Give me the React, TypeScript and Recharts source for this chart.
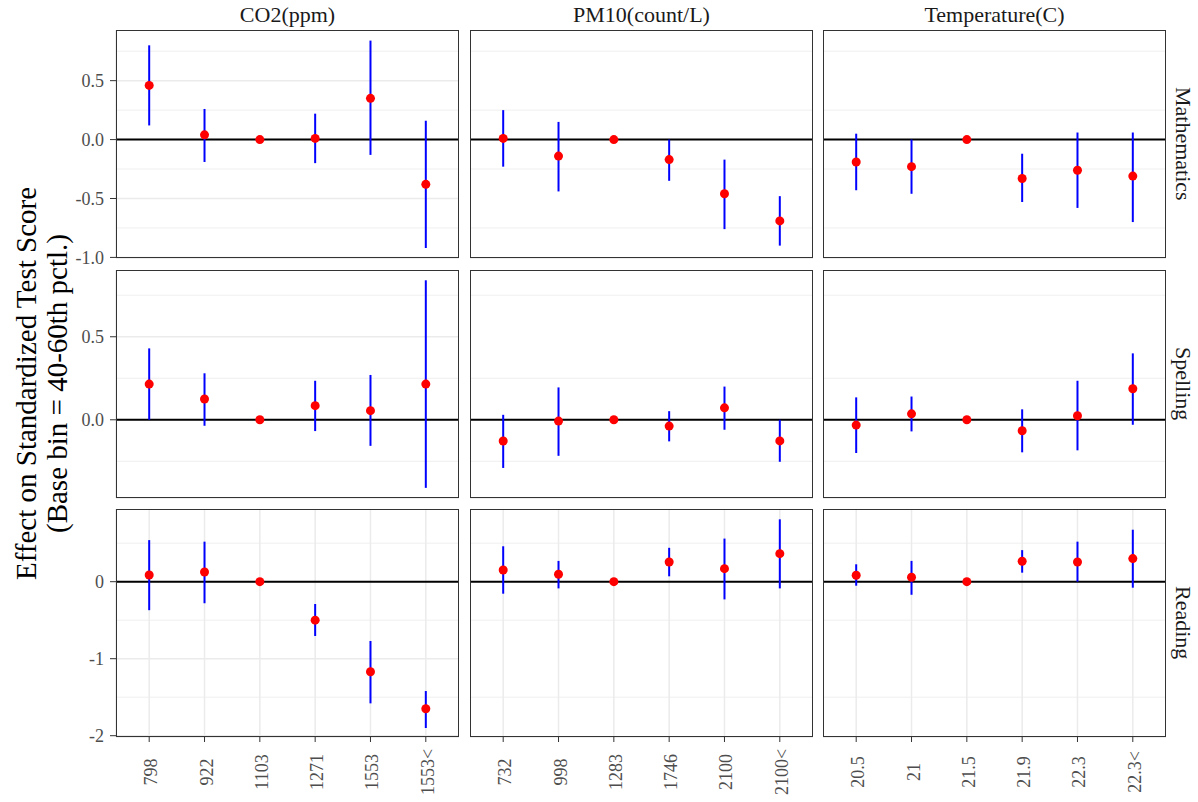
import React from 'react';
import {
  ComposedChart,
  Scatter,
  ErrorBar,
  XAxis,
  YAxis,
  CartesianGrid,
  ReferenceLine,
} from 'recharts';

// bins (x categories) per pollutant
const co2Bins = ['798', '922', '1103', '1271', '1553', '1553<'];
const pm10Bins = ['732', '998', '1283', '1746', '2100', '2100<'];
const tempBins = ['20.5', '21', '21.5', '21.9', '22.3', '22.3<'];

// Mathematics
const mathCo2Est = [0.46, 0.04, 0, 0.01, 0.35, -0.38];
const mathCo2Lo = [0.12, -0.19, 0, -0.2, -0.13, -0.92];
const mathCo2Hi = [0.8, 0.26, 0, 0.22, 0.84, 0.16];
const mathPm10Est = [0.01, -0.14, 0, -0.17, -0.46, -0.69];
const mathPm10Lo = [-0.23, -0.44, 0, -0.35, -0.76, -0.9];
const mathPm10Hi = [0.25, 0.15, 0, 0.0, -0.17, -0.48];
const mathTempEst = [-0.19, -0.23, 0, -0.33, -0.26, -0.31];
const mathTempLo = [-0.43, -0.46, 0, -0.53, -0.58, -0.7];
const mathTempHi = [0.05, 0.0, 0, -0.12, 0.06, 0.06];

// Spelling
const spellCo2Est = [0.215, 0.125, 0, 0.085, 0.055, 0.215];
const spellCo2Lo = [0.0, -0.036, 0, -0.068, -0.157, -0.41];
const spellCo2Hi = [0.43, 0.28, 0, 0.235, 0.27, 0.84];
const spellPm10Est = [-0.128, -0.008, 0, -0.038, 0.072, -0.127];
const spellPm10Lo = [-0.29, -0.217, 0, -0.13, -0.06, -0.253];
const spellPm10Hi = [0.03, 0.195, 0, 0.052, 0.2, 0.0];
const spellTempEst = [-0.032, 0.036, 0, -0.066, 0.024, 0.187];
const spellTempLo = [-0.2, -0.07, 0, -0.196, -0.184, -0.03];
const spellTempHi = [0.135, 0.14, 0, 0.063, 0.235, 0.4];

// Reading
const readCo2Est = [0.087, 0.126, 0, -0.5, -1.17, -1.65];
const readCo2Lo = [-0.37, -0.28, 0, -0.705, -1.58, -1.9];
const readCo2Hi = [0.54, 0.52, 0, -0.29, -0.77, -1.42];
const readPm10Est = [0.152, 0.096, 0, 0.256, 0.169, 0.364];
const readPm10Lo = [-0.156, -0.087, 0, 0.07, -0.23, -0.087];
const readPm10Hi = [0.46, 0.27, 0, 0.44, 0.56, 0.81];
const readTempEst = [0.083, 0.057, 0, 0.265, 0.256, 0.3];
const readTempLo = [-0.052, -0.17, 0, 0.117, 0.0, -0.078];
const readTempHi = [0.226, 0.27, 0, 0.41, 0.52, 0.675];

const pollutants = ['CO2(ppm)', 'PM10(count/L)', 'Temperature(C)'];
const outcomes = ['Mathematics', 'Spelling', 'Reading'];

const rowTicks = [
  [-1, -0.5, 0, 0.5],
  [0, 0.5],
  [-2, -1, 0],
];
const rowMinor = [
  [-0.75, -0.25, 0.25, 0.75],
  [-0.25, 0.25, 0.75],
  [-1.5, -0.5, 0.5],
];
const rowDomains = [
  [-1.005, 0.93],
  [-0.471, 0.902],
  [-2.017, 0.944],
];

const FONT = '"Liberation Serif", "Times New Roman", Times, serif';
const colLeft = [116, 470, 823];
const rowTop = [30, 270, 509];
const PW = 343;
const PH = 228;
const Y_AXIS_W = 50;
const X_AXIS_H = 65;
const SPARE = 12; // room below hidden x axis so edge tick labels are not clipped
const PAD = (0.6 * PW) / 6.2;

function buildRows(bins: string[], est: number[], lo: number[], hi: number[]) {
  return bins.map((bin, i) => ({
    bin,
    est: est[i],
    err: [est[i] - lo[i], hi[i] - est[i]],
  }));
}

const panelData = [
  [
    buildRows(co2Bins, mathCo2Est, mathCo2Lo, mathCo2Hi),
    buildRows(pm10Bins, mathPm10Est, mathPm10Lo, mathPm10Hi),
    buildRows(tempBins, mathTempEst, mathTempLo, mathTempHi),
  ],
  [
    buildRows(co2Bins, spellCo2Est, spellCo2Lo, spellCo2Hi),
    buildRows(pm10Bins, spellPm10Est, spellPm10Lo, spellPm10Hi),
    buildRows(tempBins, spellTempEst, spellTempLo, spellTempHi),
  ],
  [
    buildRows(co2Bins, readCo2Est, readCo2Lo, readCo2Hi),
    buildRows(pm10Bins, readPm10Est, readPm10Lo, readPm10Hi),
    buildRows(tempBins, readTempEst, readTempLo, readTempHi),
  ],
];

const fmtDec = (v: number) => v.toFixed(1);
const fmtInt = (v: number) => String(v);
const rowFormat = [fmtDec, fmtDec, fmtInt];

function RedDot(props: any) {
  const { cx, cy } = props;
  if (cx == null || cy == null) return null;
  return <circle cx={cx} cy={cy} r={4.5} fill="#FF0000" />;
}

function XTick(props: any) {
  const { x, y, payload } = props;
  return (
    <g transform={`translate(${x + 2},${y + 28}) rotate(-90)`}>
      <text
        textAnchor="middle"
        dominantBaseline="central"
        fill="#4D4D4D"
        fontSize={18}
        fontFamily={FONT}
      >
        {payload.value}
      </text>
    </g>
  );
}

function Panel({ r, c }: { r: number; c: number }) {
  const rows = panelData[r][c];
  const showY = c === 0;
  const showX = r === 2;
  const yW = showY ? Y_AXIS_W : 0;
  const xH = showX ? X_AXIS_H : 0;
  const bottom = showX ? 0 : SPARE;
  return (
    <div style={{ position: 'absolute', left: colLeft[c] - yW, top: rowTop[r] }}>
      <ComposedChart
        width={PW + yW}
        height={PH + xH + bottom}
        data={rows}
        margin={{ top: 0, right: 0, bottom, left: 0 }}
      >
        <XAxis
          dataKey="bin"
          type="category"
          scale="point"
          padding={{ left: PAD, right: PAD }}
          height={xH}
          interval={0}
          axisLine={false}
          tickSize={5}
          tickMargin={2}
          tickLine={showX ? { stroke: '#333333' } : false}
          tick={showX ? <XTick /> : false}
        />
        <YAxis
          yAxisId="major"
          type="number"
          domain={rowDomains[r]}
          ticks={rowTicks[r]}
          allowDataOverflow
          interval={0}
          width={yW}
          axisLine={false}
          tickSize={6}
          tickMargin={6}
          tickLine={showY ? { stroke: '#333333' } : false}
          tick={showY ? { fill: '#4D4D4D', fontSize: 18, fontFamily: FONT } : false}
          tickFormatter={rowFormat[r]}
        />
        <YAxis
          yAxisId="minor"
          type="number"
          domain={rowDomains[r]}
          ticks={rowMinor[r]}
          allowDataOverflow
          interval={0}
          hide
        />
        <CartesianGrid yAxisId="minor" vertical={false} stroke="#EBEBEB" strokeWidth={0.8} />
        <CartesianGrid yAxisId="major" stroke="#EBEBEB" strokeWidth={1.5} />
        <ReferenceLine yAxisId="major" y={0} stroke="#000000" strokeWidth={2} />
        <Scatter yAxisId="major" dataKey="est" isAnimationActive={false} shape={<RedDot />}>
          <ErrorBar
            dataKey="err"
            direction="y"
            width={0}
            stroke="#0000FF"
            strokeWidth={2}
            isAnimationActive={false}
          />
        </Scatter>
      </ComposedChart>
      <div
        style={{
          position: 'absolute',
          left: yW,
          top: 0,
          width: PW,
          height: PH,
          border: '1px solid #333333',
          boxSizing: 'border-box',
          pointerEvents: 'none',
        }}
      />
    </div>
  );
}

export default function App() {
  const cells = [];
  for (let r = 0; r < 3; r++) {
    for (let c = 0; c < 3; c++) {
      cells.push(<Panel key={`${r}-${c}`} r={r} c={c} />);
    }
  }
  return (
    <div
      style={{
        position: 'absolute',
        left: 0,
        top: 0,
        width: 1198,
        height: 802,
        background: '#FFFFFF',
        overflow: 'hidden',
        fontFamily: FONT,
      }}
    >
      {pollutants.map((p, c) => (
        <div
          key={p}
          style={{
            position: 'absolute',
            left: colLeft[c],
            top: 0,
            width: PW,
            height: 29,
            display: 'flex',
            alignItems: 'center',
            justifyContent: 'center',
            fontSize: 22,
            color: '#1A1A1A',
          }}
        >
          {p}
        </div>
      ))}
      {outcomes.map((o, r) => (
        <div
          key={o}
          style={{
            position: 'absolute',
            left: 1167,
            top: rowTop[r],
            width: 31,
            height: PH,
            display: 'flex',
            alignItems: 'center',
            justifyContent: 'center',
            writingMode: 'vertical-rl',
            fontSize: 22,
            color: '#1A1A1A',
          }}
        >
          {o}
        </div>
      ))}
      <svg style={{ position: 'absolute', left: 0, top: 0 }} width={110} height={802}>
        <text
          transform="translate(26,383.5) rotate(-90)"
          textAnchor="middle"
          dominantBaseline="central"
          fontSize={29}
          fontFamily={FONT}
          fill="#000000"
        >
          Effect on Standardized Test Score
        </text>
        <text
          transform="translate(57,383.5) rotate(-90)"
          textAnchor="middle"
          dominantBaseline="central"
          fontSize={29}
          fontFamily={FONT}
          fill="#000000"
        >
          (Base bin = 40-60th pctl.)
        </text>
      </svg>
      {cells}
    </div>
  );
}
